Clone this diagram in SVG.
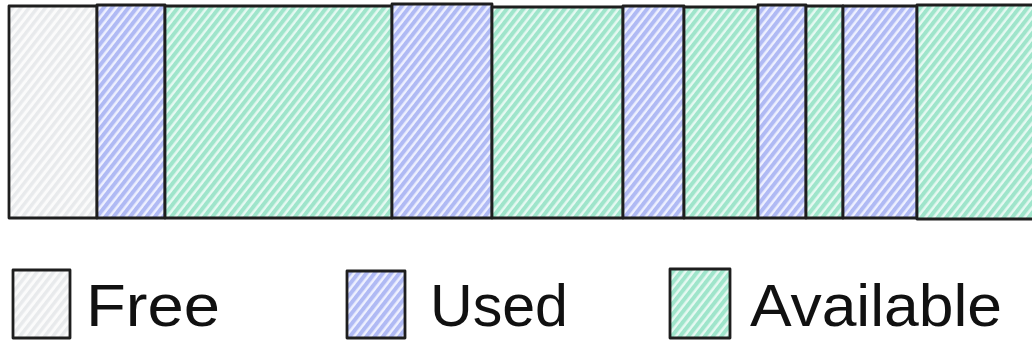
<svg xmlns="http://www.w3.org/2000/svg" width="1032" height="346" viewBox="0 0 1032 346">
  <style>
    .seg { stroke: #1e1e1e; stroke-width: 2.8; stroke-linejoin: round; }
    .free { fill: url(#hFree); }
    .used { fill: url(#hUsed); }
    .avail { fill: url(#hAvail); }
    .lbl { font-family: "Liberation Sans", "DejaVu Sans", sans-serif; font-size: 60px; fill: #111111; }
  </style>
  <defs>
    <pattern id="hFree" patternUnits="userSpaceOnUse" width="6.5" height="10" patternTransform="rotate(38)">
      <rect width="6.5" height="10" fill="#fbfbfb"/>
      <rect width="3.4" height="10" fill="#e8eaec"/>
    </pattern>
    <pattern id="hUsed" patternUnits="userSpaceOnUse" width="6.5" height="10" patternTransform="rotate(38)">
      <rect width="6.5" height="10" fill="#eef0ff"/>
      <rect width="4" height="10" fill="#b0baf4"/>
    </pattern>
    <pattern id="hAvail" patternUnits="userSpaceOnUse" width="6.5" height="10" patternTransform="rotate(38)">
      <rect width="6.5" height="10" fill="#e6f9f2"/>
      <rect width="4" height="10" fill="#9fe5cb"/>
    </pattern>
  </defs>
  <rect width="1032" height="346" fill="#ffffff"/>

  <g id="bar">
    <g id="seg-free-1"><rect class="seg free" x="9" y="6" width="88" height="212"/></g>
    <g id="seg-used-1"><rect class="seg used" x="97" y="5" width="68" height="213"/></g>
    <g id="seg-avail-1"><rect class="seg avail" x="165" y="6" width="227" height="212"/></g>
    <g id="seg-used-2"><rect class="seg used" x="392" y="4" width="100" height="214"/></g>
    <g id="seg-avail-2"><rect class="seg avail" x="492" y="7" width="131" height="211"/></g>
    <g id="seg-used-3"><rect class="seg used" x="623" y="6" width="61" height="212"/></g>
    <g id="seg-avail-3"><rect class="seg avail" x="684" y="7" width="74" height="211"/></g>
    <g id="seg-used-4"><rect class="seg used" x="758" y="5" width="48" height="213"/></g>
    <g id="seg-avail-4"><rect class="seg avail" x="806" y="6" width="37" height="212"/></g>
    <g id="seg-used-5"><rect class="seg used" x="843" y="6" width="74" height="212"/></g>
    <g id="seg-avail-5"><rect class="seg avail" x="917" y="5" width="130" height="214"/></g>
  </g>

  <g id="legend-free">
    <rect class="seg free" x="13" y="270" width="57" height="68"/>
    <text class="lbl" x="86" y="326" textLength="134" lengthAdjust="spacingAndGlyphs">Free</text>
  </g>
  <g id="legend-used">
    <rect class="seg used" x="347" y="271" width="58" height="67"/>
    <text class="lbl" x="430" y="326" textLength="138" lengthAdjust="spacingAndGlyphs">Used</text>
  </g>
  <g id="legend-available">
    <rect class="seg avail" x="670" y="269" width="60" height="69"/>
    <text class="lbl" x="750" y="326" textLength="252" lengthAdjust="spacingAndGlyphs">Available</text>
  </g>
  <g id="connectors"/>
</svg>
